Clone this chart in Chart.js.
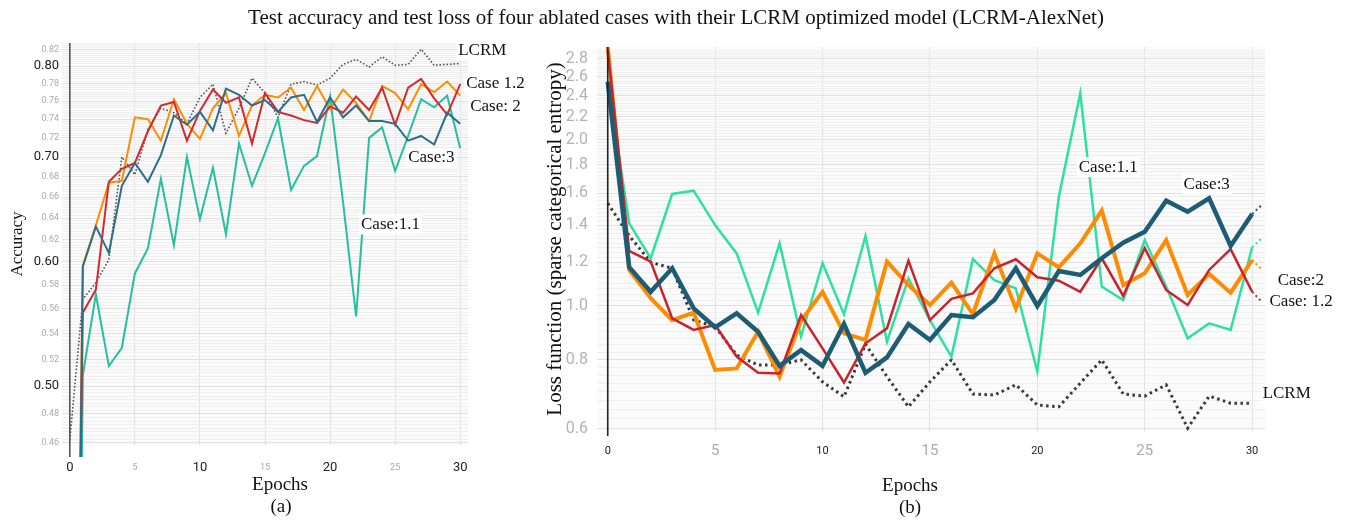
<!DOCTYPE html>
<html>
<head>
<meta charset="utf-8">
<script src="https://cdn.jsdelivr.net/npm/chart.js@4.4.1/dist/chart.umd.min.js"></script>
<style>
  body { margin: 0; background: #fff; width: 1352px; height: 521px; position: relative; overflow: hidden; }
  canvas { position: absolute; top: 0; }
  .txt { position: absolute; font-family: 'Liberation Serif', serif; color: #111; white-space: nowrap; transform: translate(-50%, -50%); }
</style>
</head>
<body>
<canvas id="acc" width="530" height="521" style="left:0"></canvas>
<canvas id="loss" width="822" height="521" style="left:530px"></canvas>
<div class="txt" style="left:676px; top:17px; font-size:21px">Test accuracy and test loss of four ablated cases with their LCRM optimized model (LCRM-AlexNet)</div>
<div class="txt" style="left:280px; top:484px; font-size:19px">Epochs</div>
<div class="txt" style="left:281px; top:506px; font-size:19px">(a)</div>
<div class="txt" style="left:910px; top:485px; font-size:19px">Epochs</div>
<div class="txt" style="left:910px; top:507px; font-size:19px">(b)</div>
<script>
// epochs on the x axis
const epochs = [0, 1, 2, 3, 4, 5, 6, 7, 8, 9, 10, 11, 12, 13, 14, 15, 16, 17, 18, 19, 20, 21, 22, 23, 24, 25, 26, 27, 28, 29, 30];
const epochTicks = [0, 5, 10, 15, 20, 25, 30];
const epochMajor = [0, 10, 20, 30];

// test accuracy
const accLCRM   = [0.462, 0.568, 0.582, 0.602, 0.700, 0.682, 0.729, 0.752, 0.747, 0.735, 0.764, 0.779, 0.725, 0.752, 0.786, 0.769, 0.742, 0.779, 0.782, 0.778, 0.786, 0.802, 0.808, 0.799, 0.811, 0.801, 0.802, 0.820, 0.801, 0.802, 0.803];
const accCase11 = [0.100, 0.508, 0.572, 0.515, 0.529, 0.590, 0.612, 0.678, 0.615, 0.700, 0.639, 0.689, 0.625, 0.714, 0.671, 0.704, 0.741, 0.667, 0.691, 0.701, 0.765, 0.655, 0.554, 0.720, 0.731, 0.686, 0.722, 0.762, 0.753, 0.766, 0.709];
const accCase12 = [0.140, 0.557, 0.576, 0.675, 0.688, 0.694, 0.727, 0.755, 0.759, 0.717, 0.749, 0.773, 0.758, 0.764, 0.714, 0.769, 0.748, 0.744, 0.739, 0.736, 0.754, 0.747, 0.765, 0.750, 0.775, 0.734, 0.775, 0.785, 0.763, 0.745, 0.779];
const accCase2  = [0.150, 0.597, 0.633, 0.674, 0.676, 0.742, 0.740, 0.717, 0.762, 0.735, 0.719, 0.752, 0.769, 0.722, 0.755, 0.767, 0.764, 0.775, 0.750, 0.777, 0.751, 0.773, 0.758, 0.738, 0.777, 0.769, 0.751, 0.779, 0.770, 0.782, 0.766];
const accCase3  = [0.120, 0.596, 0.632, 0.608, 0.671, 0.694, 0.675, 0.702, 0.744, 0.734, 0.748, 0.728, 0.774, 0.767, 0.755, 0.761, 0.748, 0.764, 0.767, 0.737, 0.764, 0.742, 0.755, 0.738, 0.738, 0.735, 0.717, 0.722, 0.713, 0.747, 0.735];
const accTickLabels = [0.46, 0.48, 0.50, 0.52, 0.54, 0.56, 0.58, 0.60, 0.62, 0.64, 0.66, 0.68, 0.70, 0.72, 0.74, 0.76, 0.78, 0.80, 0.82];
const accMajor = [0.50, 0.60, 0.70, 0.80];

// test loss
const lossLCRM   = [1.534, 1.340, 1.200, 1.170, 0.943, 0.917, 0.815, 0.782, 0.782, 0.799, 0.729, 0.685, 0.853, 0.745, 0.657, 0.729, 0.799, 0.693, 0.690, 0.720, 0.662, 0.657, 0.725, 0.799, 0.693, 0.687, 0.720, 0.601, 0.687, 0.667, 0.667];
const lossCase11 = [2.550, 1.411, 1.220, 1.595, 1.617, 1.401, 1.245, 0.973, 1.298, 0.880, 1.195, 0.966, 1.339, 0.862, 1.122, 0.943, 0.810, 1.216, 1.114, 1.076, 0.761, 1.577, 2.426, 1.084, 1.025, 1.316, 1.084, 0.874, 0.930, 0.905, 1.277];
const lossCase12 = [2.900, 1.258, 1.203, 0.950, 0.905, 0.924, 0.810, 0.757, 0.755, 0.963, 0.838, 0.727, 0.856, 0.911, 1.208, 0.943, 1.030, 1.054, 1.170, 1.215, 1.127, 1.111, 1.061, 1.220, 1.043, 1.272, 1.069, 1.004, 1.162, 1.267, 1.061];
const lossCase2  = [2.950, 1.162, 1.033, 0.943, 0.973, 0.766, 0.771, 0.898, 0.745, 0.940, 1.061, 0.892, 0.868, 1.203, 1.091, 1.004, 1.102, 0.967, 1.245, 0.990, 1.245, 1.175, 1.298, 1.488, 1.091, 1.146, 1.316, 1.047, 1.143, 1.057, 1.211];
const lossCase3  = [2.546, 1.175, 1.061, 1.170, 0.990, 0.915, 0.970, 0.898, 0.779, 0.832, 0.779, 0.928, 0.757, 0.807, 0.928, 0.868, 0.963, 0.954, 1.025, 1.170, 1.000, 1.157, 1.138, 1.220, 1.302, 1.363, 1.551, 1.481, 1.566, 1.284, 1.467];
// short dotted continuation after the last epoch: case 1.1, 1.2, 2, 3
const tailEpoch = 30.45;
const lossTails = [1.326, 1.018, 1.165, 1.523];
const lossTickLabels = [0.6, 0.8, 1.0, 1.2, 1.4, 1.6, 1.8, 2.0, 2.2, 2.4, 2.6, 2.8];

const near = (v, list) => list.some(t => Math.abs(t - v) < 1e-6);
const tickVal = c => (c && c.tick) ? c.tick.value : NaN;

// fine horizontal grid
const gridValues = (from, to, step) => {
    const out = [];
    for (let v = from; v <= to + 1e-9; v += step) out.push(Math.round(v * 10000) / 10000);
    return out;
};

const toPoints = (vals) => vals.map((v, i) => ({ x: epochs[i], y: v }));

const fondo = {
    id: 'fondo',
    beforeDraw(chart) {
        const { ctx, chartArea: a } = chart;
        ctx.save();
        ctx.fillStyle = '#fbfbfb';
        ctx.fillRect(a.left, a.top, a.right - a.left, a.bottom - a.top);
        ctx.restore();
    },
    afterDatasetsDraw(chart) {
        // zero line, runs a bit below the plot
        const { ctx, chartArea: a, scales: { x } } = chart;
        const px = x.getPixelForValue(0);
        ctx.save();
        ctx.strokeStyle = chart.options.zeroColor;
        ctx.lineWidth = 1.6;
        ctx.beginPath();
        ctx.moveTo(px, a.top);
        ctx.lineTo(px, a.bottom + chart.options.zeroExtra);
        ctx.stroke();
        ctx.restore();
    }
};

const etiquetas = {
    id: 'etiquetas',
    afterDraw(chart) {
        const { ctx, scales: { x, y } } = chart;
        ctx.save();
        ctx.font = '17px "Liberation Serif"';
        ctx.textBaseline = 'middle';
        chart.options.caseLabels.forEach(l => {
            const px = x.getPixelForValue(l.epoch);
            const py = y.getPixelForValue(l.value);
            const w = ctx.measureText(l.text).width;
            ctx.fillStyle = '#fff';
            ctx.fillRect(px - 2, py - 10, w + 4, 20);
            ctx.fillStyle = '#111';
            ctx.fillText(l.text, px, py);
        });
        ctx.restore();
    }
};

const xScale = (min, max, pad, majorSize, minorSize) => ({
    type: 'linear',
    min: min,
    max: max,
    afterBuildTicks: s => { s.ticks = epochTicks.map(v => ({ value: v })); },
    afterFit: s => { s.height = 40; },
    border: { display: false },
    grid: {
        drawTicks: false,
        color: c => tickVal(c) === 0 ? 'rgba(0,0,0,0)' : '#e2e2e2',
        lineWidth: 1
    },
    ticks: {
        padding: pad,
        autoSkip: false,
        maxRotation: 0,
        callback: v => String(v),
        color: c => near(tickVal(c), epochMajor) ? '#222' : '#aaa',
        font: c => near(tickVal(c), epochMajor)
            ? { family: 'Roboto', size: majorSize, lineHeight: '18px' }
            : { family: 'Roboto', size: minorSize, lineHeight: '18px' }
    }
});

// ---------- (a) accuracy ----------
const accGrid = gridValues(0.46, 0.8275, 0.0025);
const accMin = 0.4586, accMax = 0.8276;

const serieA = (label, data, color, order) => ({
    label, data: toPoints(data), borderColor: color, borderWidth: 2,
    pointRadius: 0, tension: 0, fill: false, order,
    clip: { left: 4, top: 4, right: 4, bottom: 12 }
});

new Chart(document.getElementById('acc'), {
    type: 'line',
    data: {
        datasets: [
            serieA('Case:3', accCase3, '#2b6f8c', 0),
            serieA('Case 1.2', accCase12, '#d6282d', 1),
            serieA('Case: 2', accCase2, '#ff8c00', 2),
            serieA('Case:1.1', accCase11, '#26bfa0', 3),
            Object.assign(serieA('LCRM', accLCRM, '#555', 4), { borderWidth: 1.6, borderDash: [1.6, 1.9] })
        ]
    },
    options: {
        responsive: false,
        animation: false,
        devicePixelRatio: 1,
        zeroColor: '#555',
        zeroExtra: 12,
        caseLabels: [
            { text: 'LCRM', epoch: 29.85, value: 0.818 },
            { text: 'Case 1.2', epoch: 30.46, value: 0.780 },
            { text: 'Case: 2', epoch: 30.77, value: 0.754 },
            { text: 'Case:3', epoch: 26.0, value: 0.699 },
            { text: 'Case:1.1', epoch: 22.38, value: 0.634 }
        ],
        layout: { padding: { left: 0, right: 62, top: 43, bottom: 36 } },
        plugins: { legend: { display: false }, tooltip: { enabled: false } },
        scales: {
            x: xScale(-0.6, 30.6, 14, 13, 9),
            y: {
                type: 'logarithmic',
                min: accMin,
                max: accMax,
                afterBuildTicks: s => { s.ticks = accGrid.map(v => ({ value: v })); s.min = accMin; s.max = accMax; },
                afterFit: s => { s.width = 62; },
                border: { display: false },
                grid: {
                    drawTicks: false,
                    color: c => near(tickVal(c), accTickLabels) ? '#e0e0e0' : '#efefef',
                    lineWidth: 1
                },
                ticks: {
                    padding: 3,
                    autoSkip: false,
                    callback: v => near(v, accTickLabels) ? v.toFixed(2) : '',
                    color: c => near(tickVal(c), accMajor) ? '#222' : '#aaa',
                    font: c => near(tickVal(c), accMajor) ? { family: 'Roboto', size: 13 } : { family: 'Roboto', size: 9 }
                },
                title: {
                    display: true, text: 'Accuracy', color: '#111',
                    font: { family: 'Liberation Serif', size: 17 },
                    padding: { top: 7 }
                }
            }
        }
    },
    plugins: [fondo, etiquetas]
});

// ---------- (b) loss ----------
const lossGrid = gridValues(0.6, 2.9, 0.025);
const lossMin = 0.594, lossMax = 2.942;

const serieB = (label, data, tail, color, width, order) => {
    const pts = toPoints(data);
    if (tail !== null) pts.push({ x: tailEpoch, y: tail });
    return {
        label, data: pts, borderColor: color, borderWidth: width,
        pointRadius: 0, tension: 0, fill: false, order,
        segment: {
            borderDash: c => c.p0DataIndex === 30 ? [2, 3] : undefined,
            borderWidth: c => c.p0DataIndex === 30 ? 2 : undefined
        }
    };
};

new Chart(document.getElementById('loss'), {
    type: 'line',
    data: {
        datasets: [
            serieB('Case:3', lossCase3, lossTails[3], '#1d5c75', 4.5, 0),
            serieB('Case: 1.2', lossCase12, lossTails[1], '#c9242b', 2.5, 1),
            serieB('Case:2', lossCase2, lossTails[2], '#ff8c00', 4, 2),
            serieB('Case:1.1', lossCase11, lossTails[0], '#2de0a4', 2.5, 3),
            Object.assign(serieB('LCRM', lossLCRM, null, '#383838', 3, 4), { borderDash: [2.5, 3.5] })
        ]
    },
    options: {
        responsive: false,
        animation: false,
        devicePixelRatio: 1,
        zeroColor: '#222',
        zeroExtra: 5,
        caseLabels: [
            { text: 'Case:1.1', epoch: 21.93, value: 1.784 },
            { text: 'Case:3', epoch: 26.81, value: 1.662 },
            { text: 'Case:2', epoch: 31.19, value: 1.114 },
            { text: 'Case: 1.2', epoch: 30.81, value: 1.017 },
            { text: 'LCRM', epoch: 30.49, value: 0.693 }
        ],
        layout: { padding: { left: 0, right: 87, top: 47, bottom: 50 } },
        plugins: { legend: { display: false }, tooltip: { enabled: false } },
        scales: {
            x: xScale(-0.5, 30.6, 11, 11, 15),
            y: {
                type: 'logarithmic',
                min: lossMin,
                max: lossMax,
                afterBuildTicks: s => { s.ticks = lossGrid.map(v => ({ value: v })); s.min = lossMin; s.max = lossMax; },
                afterFit: s => { s.width = 67; },
                border: { display: false },
                grid: {
                    drawTicks: false,
                    color: c => near(tickVal(c), lossTickLabels) ? '#e0e0e0' : '#efefef',
                    lineWidth: 1
                },
                ticks: {
                    padding: 9,
                    autoSkip: false,
                    callback: v => near(v, lossTickLabels) ? v.toFixed(1) : '',
                    color: '#b3b3b3',
                    font: { family: 'Roboto', size: 16 }
                },
                title: {
                    display: true, text: 'Loss function (sparse categorical entropy)', color: '#111',
                    font: { family: 'Liberation Serif', size: 21 },
                    padding: { top: 13 }
                }
            }
        }
    },
    plugins: [fondo, etiquetas]
});
</script>
</body>
</html>
